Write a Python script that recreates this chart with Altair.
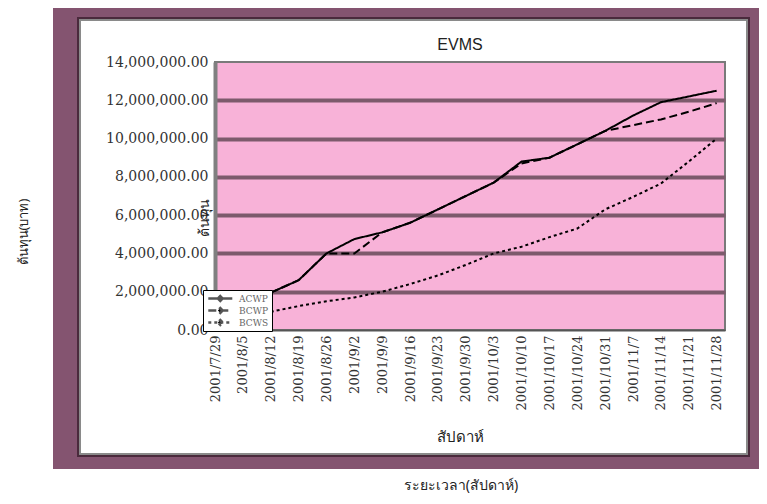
import altair as alt
import pandas as pd

dates = ["2001/7/29", "2001/8/5", "2001/8/12", "2001/8/19", "2001/8/26", "2001/9/2",
         "2001/9/9", "2001/9/16", "2001/9/23", "2001/9/30", "2001/10/3", "2001/10/10",
         "2001/10/17", "2001/10/24", "2001/10/31", "2001/11/7", "2001/11/14",
         "2001/11/21", "2001/11/28"]
series = ["ACWP", "BCWP", "BCWS"]
acwp = [None, None, 1950000, 2600000, 4000000, 4750000, 5100000, 5600000, 6300000,
        7000000, 7700000, 8800000, 9000000, 9700000, 10400000, 11200000, 11900000,
        12200000, 12500000]
bcwp = [None, None, 1950000, 2600000, 4000000, 4000000, 5100000, 5600000, 6300000,
        7000000, 7700000, 8700000, 9000000, 9700000, 10400000, 10700000, 11000000,
        11400000, 11850000]
bcws = [None, None, 950000, 1250000, 1500000, 1700000, 2000000, 2400000, 2850000,
        3400000, 4000000, 4350000, 4850000, 5300000, 6300000, 6950000, 7650000,
        8800000, 10000000]
y_ticks = [0, 2000000, 4000000, 6000000, 8000000, 10000000, 12000000, 14000000]

rows = []
for name, vals in zip(series, [acwp, bcwp, bcws]):
    for i, v in enumerate(vals):
        if v is not None:
            rows.append({"idx": i, "week": dates[i], "series": name, "value": v})
df = pd.DataFrame(rows)

PURPLE = "#845470"
DARK = "#4a2a3c"
GRID = "#7d5a6c"
PINK = "#f8b2d8"

label_expr = "[" + ",".join("'%s'" % d for d in dates) + "][datum.value]"

one = alt.Data(values=[{"a": 1}])


def strip(x1, x2, y1, y2, color):
    return alt.Chart(one).mark_rect(color=color).encode(
        x=alt.value(x1), x2=alt.value(x2), y=alt.value(y1), y2=alt.value(y2))


def outline(x1, x2, y1, y2, color, w):
    return alt.Chart(one).mark_rect(fillOpacity=0, stroke=color, strokeWidth=w).encode(
        x=alt.value(x1), x2=alt.value(x2), y=alt.value(y1), y2=alt.value(y2))


def label(text, x, y, size, angle=0, font="Noto Sans"):
    return alt.Chart(one).mark_text(text=text, fontSize=size, angle=angle, font=font,
                                    color="#222222", align="center", baseline="middle").encode(
        x=alt.value(x), y=alt.value(y))


legend_symbol = "M-0.8,0L5.2,0M2.2,-0.6L2.8,0L2.2,0.6L1.6,0Z"

lines = alt.Chart(df).mark_line(color="black", strokeWidth=2).encode(
    x=alt.X("idx:Q", scale=alt.Scale(domain=[0, 18.3], nice=False, zero=False),
            axis=alt.Axis(values=list(range(len(dates))), labelExpr=label_expr,
                          labelAngle=270, labelAlign="right", labelBaseline="middle",
                          labelFont="DejaVu Serif", labelFontSize=13, labelColor="#333333",
                          labelPadding=5, ticks=False, tickSize=0, grid=False,
                          domainColor="#555555", domainWidth=2, title=None)),
    y=alt.Y("value:Q", scale=alt.Scale(domain=[0, 14000000], nice=False),
            axis=alt.Axis(values=y_ticks, format=",.2f", labelFont="DejaVu Serif",
                          labelFontSize=14, labelColor="#333333", labelPadding=7,
                          ticks=False, tickSize=0, grid=True, gridColor=GRID, gridWidth=4,
                          gridOpacity={"condition": {"test": "datum.value == 0 || datum.value == 14000000",
                                                     "value": 0}, "value": 1},
                          domainColor="#808080", domainWidth=4, title=None)),
    strokeDash=alt.StrokeDash("series:N",
                              scale=alt.Scale(domain=series, range=[[1, 0], [8, 4], [3, 3]]),
                              legend=alt.Legend(title=None, orient="none", legendX=-12, legendY=228,
                                                fillColor="white", strokeColor="black",
                                                padding=3, symbolType=legend_symbol, symbolSize=64,
                                                symbolStrokeWidth=2.5, symbolStrokeColor="#555555",
                                                symbolFillColor="black", clipHeight=11,
                                                labelFont="DejaVu Serif", labelFontSize=9,
                                                labelColor="#666666", rowPadding=1, labelOffset=22)),
)

frame = [
    strip(-162, -138, -56, 407, PURPLE),
    strip(-162, 552, -56, -45, PURPLE),
    strip(535, 552, -56, 407, PURPLE),
    strip(-162, 552, 395, 407, PURPLE),
    outline(-137, 534, -44, 394, DARK, 2),
    outline(-135, 532, -42, 392, "#8a8a8a", 2),
]
texts = [
    label("EVMS", 245, -17, 16, font="Liberation Sans"),
    label("ต้นทุน", -10, 156, 14, angle=270),
    label("สัปดาห์", 245, 375, 15),
    label("ต้นทุน(บาท)", -191, 170, 13, angle=270),
    label("ระยะเวลา(สัปดาห์)", 246, 424, 14),
]

chart = alt.layer(*frame, *texts, lines).properties(
    width=510, height=268,
    autosize=alt.AutoSizeParams(type="none"),
    padding={"left": 207, "top": 54, "right": 34, "bottom": 166},
    background="white",
).configure_view(fill=PINK, stroke="#7a7a7a", strokeWidth=2)

chart.save("out.html", embed_options={"renderer": "svg", "actions": False})
